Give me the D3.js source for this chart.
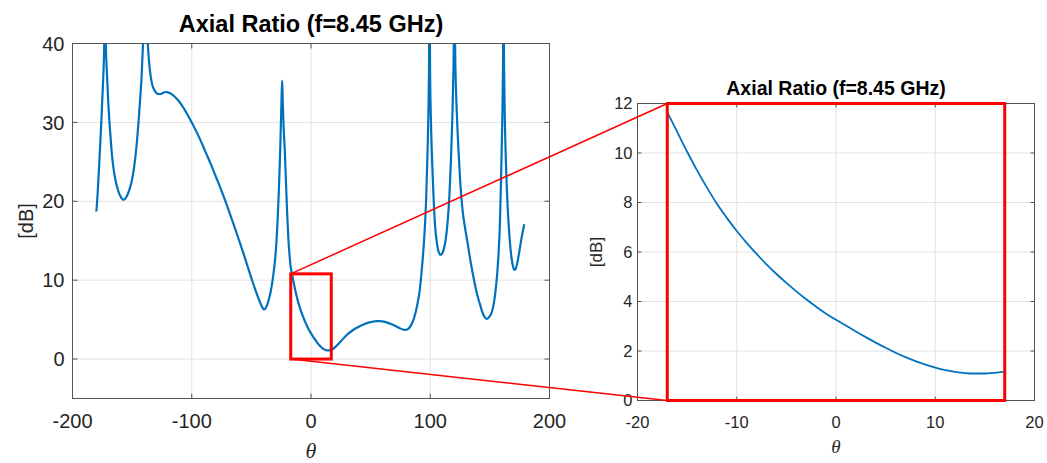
<!DOCTYPE html>
<html><head><meta charset="utf-8">
<script src="https://cdn.jsdelivr.net/npm/d3@7"></script>
<style>body{margin:0;background:#fff} svg{display:block}</style>
</head><body>
<svg id="chart" width="1047" height="463"></svg>
<script>
// ---- data ----
const theta = [
 -180,-179,-178,-177,-176,-175,-174,-173.5,-172.8,-172,-171.2,-170,-169,-168,-167,-166,-164,-162,-160,-158,-157,-156,-154,-152,-150,-148,-146,-144.5,-143,-142,-141,-140,-139,-138,-137,-136,-135,-134,-133,-132,-130,-128,-126,-124,-122,-120,-116,-112,-108,-104,-100,-96,-92,-88,-84,-80,-76,-72,-68,-64,-60,-56,-52,-49,-46,-43,-41,-40,-39,-38,-36,-34,-32,-30,-29,-28,-27,-26,-25.3,-24.7,-24.2,-23.7,-23,-22,-21,-20,-19,-18,
 -17,-16,-15,-14,-13,-12,-11,-10,-9,-8,-7,-6,-5,-4,-3,-2,-1,0,1,2,3,4,5,6,7,8,9,10,11,12,13,14,15,16,17,
 18,20,25,30,35,40,45,50,55,58,62,66,70,74,77,79,81,84,87,89,91,93,95,96.5,97.5,98.3,98.9,99.4,99.9,100.6,101.5,102.5,104,105.5,107,108.5,110,111.5,113,114.5,116,117.3,118.5,119.5,120.3,121.1,122.2,123.5,125,127,129,131,134,137,140,142,143.5,145.5,147.5,149.5,151.5,153,155,156.5,157.2,158.5,159.5,160.5,161,161.4,161.9,162.6,163.7,165,166.5,168,169.5,170.5,171.5,173,174.8,176.5,178.8
];
const axialRatioDb = [
 18.7,20.8,23.5,26.5,29.5,33,36.5,39,46,39.5,36.5,32.5,30,28,26,24.6,22.7,21.5,20.7,20.25,20.2,20.3,20.8,21.6,22.8,24.7,27.5,30.3,33.5,36,39.5,42,43,42.5,40.3,38,36.5,35.4,34.7,34.3,33.8,33.6,33.6,33.75,33.85,33.8,33.5,32.9,32.1,31.1,30.0,28.8,27.5,26.1,24.7,23.2,21.7,20.1,18.4,16.7,14.9,13.1,11.2,9.8,8.5,7.3,6.6,6.35,6.3,6.45,7.2,8.4,10.2,12.8,14.8,17.6,21.2,25.5,29.5,33,35.3,32.8,29.5,26.5,22.5,18.5,15.3,13.2,
 11.65,10.85,10.05,9.3,8.6,7.95,7.38,6.85,6.37,5.92,5.5,5.11,4.75,4.41,4.09,3.79,3.51,3.26,3.03,2.79,2.56,2.34,2.13,1.93,1.75,1.59,1.45,1.33,1.23,1.16,1.11,1.09,1.09,1.12,1.17,
 1.25,1.48,2.25,3.05,3.65,4.1,4.45,4.68,4.8,4.82,4.72,4.5,4.25,3.95,3.75,3.7,3.78,4.3,5.5,6.8,8.5,11.5,15.5,20,25,30,36,46,36,30,25.5,21.5,17,14.8,13.6,13.2,13.4,14,15.2,17.3,20.5,25,30.5,37,46,37,31.5,27,22.8,19,16.8,15,12.2,9.8,7.8,6.8,6.0,5.35,5.1,5.35,5.9,6.8,9.0,11.5,13.2,17.5,23.8,31,37,46,37,30,23.8,19,15.4,13,11.7,11.3,11.4,12.2,13.7,15.3,17.1
];
const xTicksMain = [-200,-100,0,100,200];
const yTicksMain = [0,10,20,30,40];
const xTicksZoom = [-20,-10,0,10,20];
const yTicksZoom = [0,2,4,6,8,10,12];
const titleText = "Axial Ratio (f=8.45 GHz)";
const yLabelText = "[dB]";
const xLabelText = "θ";
const zoomThetaRange = [-17, 17];
const zoomBoxMainDb = [0, 10.8];
const zoomBoxInsetDb = [0, 12];

const data = theta.map((t,i)=>({t, v: axialRatioDb[i]}));
const svg = d3.select("#chart");
const AX = "#262626";

function drawAxes(cfg){
  const x = d3.scaleLinear().domain(cfg.xDomain).range(cfg.xRange);
  const y = d3.scaleLinear().domain(cfg.yDomain).range(cfg.yRange);
  const [x0,x1] = cfg.xRange, [y0,y1] = cfg.yRange; // y0 bottom, y1 top
  const g = svg.append("g");
  // grid
  g.selectAll(null).data(cfg.xTicks.filter(v=>v>cfg.xDomain[0]&&v<cfg.xDomain[1])).enter().append("line")
    .attr("x1",d=>x(d)).attr("x2",d=>x(d)).attr("y1",y0).attr("y2",y1)
    .attr("stroke","#e2e2e2").attr("stroke-width",1);
  g.selectAll(null).data(cfg.yTicks.filter(v=>v>cfg.yDomain[0]&&v<cfg.yDomain[1])).enter().append("line")
    .attr("y1",d=>y(d)).attr("y2",d=>y(d)).attr("x1",x0).attr("x2",x1)
    .attr("stroke","#e2e2e2").attr("stroke-width",1);
  // curve
  const cid = "clip"+cfg.id;
  svg.append("clipPath").attr("id",cid).append("rect")
    .attr("x",x0).attr("y",y1).attr("width",x1-x0).attr("height",y0-y1);
  const pts = data.filter(d=>d.t>=cfg.dataRange[0]&&d.t<=cfg.dataRange[1]);
  g.append("path").datum(pts)
    .attr("clip-path",`url(#${cid})`)
    .attr("fill","none").attr("stroke","#0072BD").attr("stroke-width",cfg.lw)
    .attr("stroke-linejoin","round")
    .attr("d",d3.line().x(d=>x(d.t)).y(d=>y(d.v)).curve(d3.curveMonotoneX));
  // box
  g.append("rect").attr("x",x0).attr("y",y1).attr("width",x1-x0).attr("height",y0-y1)
    .attr("fill","none").attr("stroke","#555").attr("stroke-width",1);
  // ticks
  const tl = cfg.tickLen;
  cfg.xTicks.forEach(v=>{
    g.append("line").attr("x1",x(v)).attr("x2",x(v)).attr("y1",y0).attr("y2",y0-tl).attr("stroke","#555");
    g.append("line").attr("x1",x(v)).attr("x2",x(v)).attr("y1",y1).attr("y2",y1+tl).attr("stroke","#555");
  });
  cfg.yTicks.forEach(v=>{
    g.append("line").attr("y1",y(v)).attr("y2",y(v)).attr("x1",x0).attr("x2",x0+tl).attr("stroke","#555");
    g.append("line").attr("y1",y(v)).attr("y2",y(v)).attr("x1",x1).attr("x2",x1-tl).attr("stroke","#555");
  });
  // tick labels
  g.selectAll(null).data(cfg.xTicks).enter().append("text")
    .attr("x",d=>x(d)).attr("y",cfg.xLabelBase)
    .attr("text-anchor","middle").attr("font-family","Liberation Sans, Arial, sans-serif")
    .attr("font-size",cfg.tickFont).attr("fill",AX).text(d=>d);
  g.selectAll(null).data(cfg.yTicks).enter().append("text")
    .attr("x",x0-cfg.yLabelGap).attr("y",d=>y(d)).attr("dy","0.36em")
    .attr("text-anchor","end").attr("font-family","Liberation Sans, Arial, sans-serif")
    .attr("font-size",cfg.tickFont).attr("fill",AX).text(d=>d);
  // title
  g.append("text").attr("x",(x0+x1)/2).attr("y",cfg.titleBase)
    .attr("text-anchor","middle").attr("font-family","Liberation Sans, Arial, sans-serif")
    .attr("font-weight","bold").attr("font-size",cfg.titleFont).attr("fill","#000").text(titleText);
  // axis labels
  g.append("text").attr("x",(x0+x1)/2).attr("y",cfg.thetaBase)
    .attr("text-anchor","middle").attr("font-family","Liberation Serif, Times New Roman, serif")
    .attr("font-style","italic").attr("font-size",cfg.thetaFont).attr("fill",AX).text(xLabelText);
  g.append("text").attr("transform",`translate(${cfg.dbX},${(y0+y1)/2}) rotate(-90)`)
    .attr("text-anchor","middle").attr("font-family","Liberation Sans, Arial, sans-serif")
    .attr("font-size",cfg.dbFont).attr("fill",AX).text(yLabelText);
  return {x,y};
}

const main = drawAxes({id:"main", xDomain:[-200,200], yDomain:[-5,40],
  xRange:[72.5,549.5], yRange:[398.5,43.5], xTicks:xTicksMain, yTicks:yTicksMain,
  dataRange:[-180,180], lw:2.2, tickLen:5, tickFont:20, xLabelBase:428, yLabelGap:8,
  titleFont:23.5, titleBase:32, thetaFont:22, thetaBase:458, dbX:33, dbFont:20});

const inset = drawAxes({id:"inset", xDomain:[-20,20], yDomain:[0,12],
  xRange:[637.5,1034.5], yRange:[400.5,103.5], xTicks:xTicksZoom, yTicks:yTicksZoom,
  dataRange:zoomThetaRange, lw:1.8, tickLen:4, tickFont:16.5, xLabelBase:428, yLabelGap:5,
  titleFont:19.5, titleBase:95, thetaFont:19, thetaBase:453, dbX:602, dbFont:17});

// zoom annotation
const red = "#ff0000";
svg.append("rect")
  .attr("x",main.x(zoomThetaRange[0])).attr("y",main.y(zoomBoxMainDb[1]))
  .attr("width",main.x(zoomThetaRange[1])-main.x(zoomThetaRange[0]))
  .attr("height",main.y(zoomBoxMainDb[0])-main.y(zoomBoxMainDb[1]))
  .attr("fill","none").attr("stroke",red).attr("stroke-width",3);
svg.append("rect")
  .attr("x",inset.x(zoomThetaRange[0])).attr("y",inset.y(zoomBoxInsetDb[1]))
  .attr("width",inset.x(zoomThetaRange[1])-inset.x(zoomThetaRange[0]))
  .attr("height",inset.y(zoomBoxInsetDb[0])-inset.y(zoomBoxInsetDb[1]))
  .attr("fill","none").attr("stroke",red).attr("stroke-width",3);
[[zoomBoxMainDb[1],zoomBoxInsetDb[1]],[zoomBoxMainDb[0],zoomBoxInsetDb[0]]].forEach(([a,b])=>{
  svg.append("line")
    .attr("x1",main.x(zoomThetaRange[0])).attr("y1",main.y(a))
    .attr("x2",inset.x(zoomThetaRange[0])).attr("y2",inset.y(b))
    .attr("stroke",red).attr("stroke-width",1.5);
});
</script>
</body></html>
